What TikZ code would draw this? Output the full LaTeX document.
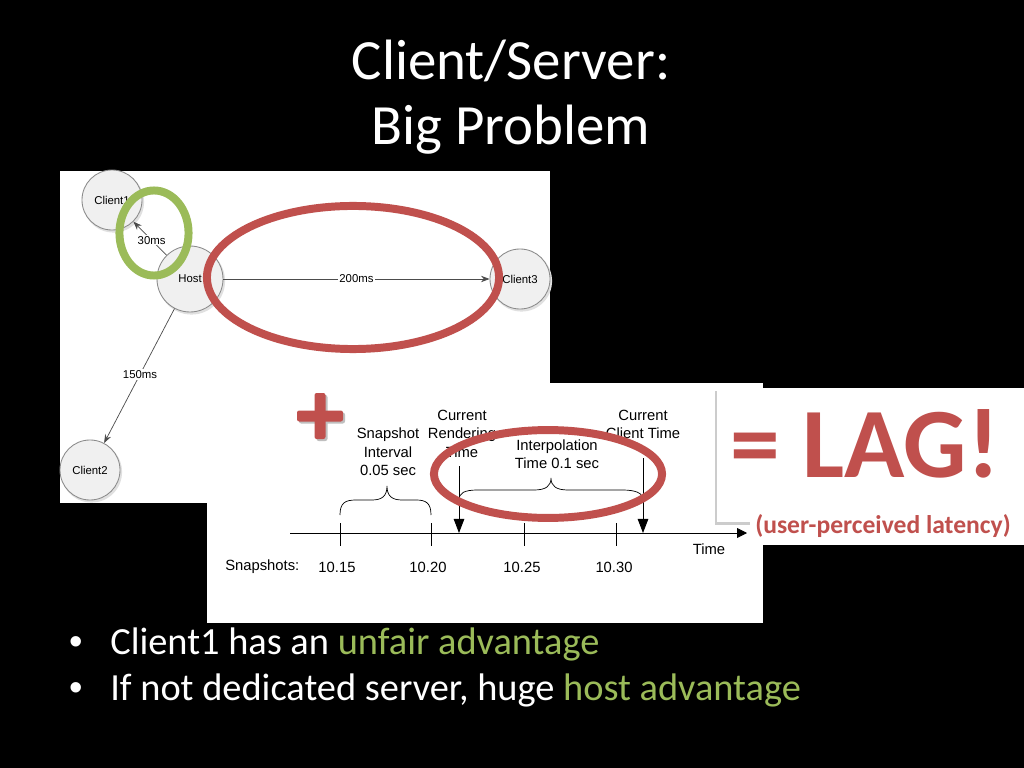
\documentclass[tikz,border=0pt]{standalone}
\usepackage{fontspec}
\setmainfont{Carlito}
\newfontfamily\arialf{Liberation Sans}
\usetikzlibrary{arrows.meta,shapes.geometric}
\definecolor{slred}{HTML}{C0504D}
\definecolor{slgreen}{HTML}{9BBB59}
\definecolor{nodefill}{HTML}{F0F0F0}
\definecolor{nodeline}{HTML}{8A8A8A}
\begin{document}
\begin{tikzpicture}[x=0.703125pt,y=-0.703125pt,
  gnode/.style={circle,draw=nodeline,fill=nodefill,line width=0.6pt,inner sep=0pt,
    font=\arialf\fontsize{8}{9}\selectfont},
  glabel/.style={fill=white,inner sep=0.8pt,font=\arialf\fontsize{8}{9}\selectfont},
  gedge/.style={draw=black!70,line width=0.5pt,-{Stealth[length=6pt,width=4.5pt]}},
  tltext/.style={font=\arialf\fontsize{10.4}{13}\selectfont,align=center,inner sep=0pt},
  tlarrow/.style={draw=black,line width=0.6pt,-{Triangle[length=10pt,width=7.5pt]}},
  hilite/.style={line width=5.6pt},
  panel/.style={fill=white,draw=none},
  titletext/.style={text=white,font=\fontsize{40}{48}\selectfont,inner sep=0pt,anchor=base},
  bullettext/.style={text=white,font=\fontsize{27}{32}\selectfont,inner sep=0pt,anchor=base west},
  bulletdot/.style={text=white,font=\arialf\fontsize{27}{32}\selectfont,inner sep=0pt,anchor=base},
]
% background
\fill[black] (0,0) rectangle (1024,768);
\useasboundingbox (0,0) rectangle (1024,768);

% title
\node[titletext] (t1) at (511,80) {Client/Server:};
\node[titletext] (t2) at (511,145) {Big Problem};

% ---------- graph panel ----------
\fill[panel] (60,171) rectangle (550,503);
\foreach \cx/\cy/\rr in {112/200/30,190/279/33,520/279/30,90/470/30}{
  \fill[black!12] (\cx+1.5,\cy+2) circle [radius=\rr*0.703125pt+0.4pt];}
\node[gnode,minimum size=42.2pt] (c1) at (112,200) {Client1};
\node[gnode,minimum size=46.4pt] (host) at (190,279) {Host};
\node[gnode,minimum size=42.2pt] (c3) at (520,279) {Client3};
\node[gnode,minimum size=42.2pt] (c2) at (90,470) {Client2};
\draw[gedge] (host) -- node[glabel] (l200) {200ms} (c3);
\draw[gedge] (host) -- node[glabel,pos=0.45] (l30) {30ms} (c1);
\draw[gedge] (host) -- node[glabel,pos=0.49] (l150) {150ms} (c2);
\draw[slred,hilite] (353,277.5) ellipse [x radius=102.7pt, y radius=50.3pt];
\draw[slgreen,hilite] (154,233) ellipse [x radius=24.3pt, y radius=29.9pt];

% ---------- timeline panel ----------
\fill[panel] (207,383) rectangle (763,623);
\coordinate (axs) at (290,533);
\coordinate (axe) at (747,533);
\draw[draw=black,line width=0.6pt,-{Triangle[length=7pt,width=7pt]}] (axs) -- (axe);
\foreach \tx in {340,431,524,616}{\draw[line width=0.6pt] (\tx,523) -- (\tx,546);}
\node[tltext,anchor=west] (snaps) at (225,567) {Snapshots:};
\node[tltext] (s15) at (337,567) {10.15};
\node[tltext] (s20) at (428,567) {10.20};
\node[tltext] (s25) at (522,567) {10.25};
\node[tltext] (s30) at (614,567) {10.30};
\node[tltext] (tlab) at (709,549) {Time};
\node[tltext] (sint) at (388,452) {Snapshot\\Interval\\0.05 sec};
\node[tltext] (crt) at (462,433.5) {Current\\Rendering\\Time};
\node[tltext] (ipt) at (557,454) {Interpolation\\Time 0.1 sec};
\node[tltext] (cct) at (643,424.5) {Current\\Client Time};
\coordinate (ra) at (459,466);
\coordinate (rb) at (459,533);
\coordinate (ca) at (643,458);
\coordinate (cb) at (643,533);
\draw[tlarrow] (ra) -- (rb);
\draw[tlarrow] (ca) -- (cb);
% braces
\draw[line width=0.5pt] (340,515) .. controls (340,503) and (345,500) .. (356,500)
  -- (372,500) .. controls (382,500) and (387,496) .. (387,486)
  .. controls (387,496) and (392,500) .. (402,500) -- (416,500)
  .. controls (426,500) and (431,503) .. (431,515);
\draw[line width=0.5pt] (459,500) .. controls (459,493) and (464,490) .. (478,490)
  -- (534,490) .. controls (546,490) and (551,486) .. (551,478)
  .. controls (551,486) and (556,490) .. (568,490) -- (622,490)
  .. controls (636,490) and (643,493) .. (643,500);
\draw[slred,hilite] (548,474) ellipse [x radius=80.2pt, y radius=30.9pt];
% plus sign
\begin{scope}[shift={(2,2)}]
\fill[black!25,rounded corners=1.5pt] (297,410.5) rectangle (343,421.5);
\fill[black!25,rounded corners=1.5pt] (314.5,393) rectangle (325.5,439);
\end{scope}
\fill[slred,rounded corners=1.5pt] (297,410.5) rectangle (343,421.5);
\fill[slred,rounded corners=1.5pt] (314.5,393) rectangle (325.5,439);

% ---------- LAG panel ----------
\fill[black!20] (714.5,391) rectangle (1024,524.5);
\fill[panel] (717,388) rectangle (1024,522);
\fill[panel] (750,521) rectangle (1024,545);
\node[text=slred,font=\bfseries\fontsize{70}{82}\selectfont,inner sep=0pt,anchor=base] (lag) at (865,477) {= LAG!};
\node[text=slred,font=\bfseries\fontsize{18}{22}\selectfont,inner sep=0pt,anchor=base] (upl) at (883,533) {(user-perceived latency)};

% ---------- bullets ----------
\node[bulletdot] (b1d) at (76,654) {•};
\node[bullettext] (b1) at (110,654) {Client1 has an \textcolor{slgreen}{unfair advantage}};
\node[bulletdot] (b2d) at (76,700) {•};
\node[bullettext] (b2) at (110,700) {If not dedicated server, huge \textcolor{slgreen}{host advantage}};
\end{tikzpicture}
\end{document}
